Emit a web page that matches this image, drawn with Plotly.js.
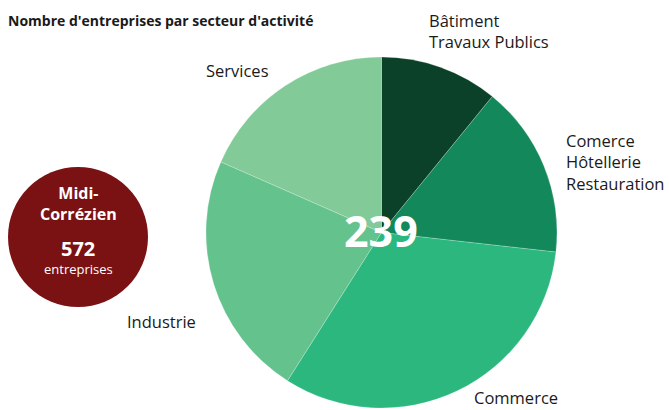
<!DOCTYPE html>
<html><head><meta charset="utf-8">
<script src="https://cdn.plot.ly/plotly-3.0.1.min.js"></script>
<style>html,body{margin:0;padding:0;background:#fff}</style>
</head><body><div id="chart" style="width:669px;height:410px"></div>
<script>
const sectors = ["Bâtiment Travaux Publics", "Comerce Hôtellerie Restauration", "Commerce", "Industrie", "Services"];
const counts = [26, 38, 77, 54, 44];
const colors = ["#0b4128", "#13885a", "#2cb77f", "#64c38d", "#82ca97"];
const totalLabel = "239";
const titleText = "Nombre d'entreprises par secteur d'activité";
const regionName = "Midi-<br>Corrézien";
const regionCount = "572";
const regionUnit = "entreprises";

const W = 669, H = 410;
const px = x => x / W, py = y => 1 - y / H;
const FONT = "Open Sans, Noto Sans, sans-serif";

const labelPos = [
  {text: "Bâtiment<br>Travaux Publics", x: 427, y: 31},
  {text: "Comerce<br>Hôtellerie<br>Restauration", x: 564, y: 162},
  {text: "Commerce", x: 472, y: 397},
  {text: "Industrie", x: 125, y: 321},
  {text: "Services", x: 204, y: 71}
];

const annotations = labelPos.map(l => ({
  text: l.text, x: px(l.x), y: py(l.y), xref: "paper", yref: "paper",
  xanchor: "left", yanchor: "middle", align: "left", showarrow: false,
  font: {family: FONT, size: 16.5, color: "#1a1a1a"}
}));
annotations.push({text: "<b>" + titleText + "</b>", x: px(6), y: py(20), xref: "paper", yref: "paper",
  xanchor: "left", yanchor: "middle", showarrow: false, font: {family: FONT, size: 14, color: "#1a1a1a"}});
annotations.push({text: "<b>" + totalLabel + "</b>", x: px(381), y: py(231), xref: "paper", yref: "paper",
  xanchor: "center", yanchor: "middle", showarrow: false, font: {family: FONT, size: 43, color: "#ffffff"}});
annotations.push({text: "<b>" + regionName + "</b>", x: px(78), y: py(203), xref: "paper", yref: "paper",
  xanchor: "center", yanchor: "middle", showarrow: false, font: {family: FONT, size: 16, color: "#ffffff"}});
annotations.push({text: "<b>" + regionCount + "</b>", x: px(78), y: py(248), xref: "paper", yref: "paper",
  xanchor: "center", yanchor: "middle", showarrow: false, font: {family: FONT, size: 20, color: "#ffffff"}});
annotations.push({text: regionUnit, x: px(78), y: py(269), xref: "paper", yref: "paper",
  xanchor: "center", yanchor: "middle", showarrow: false, font: {family: FONT, size: 13, color: "#ffffff"}});

const data = [{
  type: "pie", labels: sectors, values: counts, sort: false, direction: "clockwise", rotation: 0,
  marker: {colors: colors, line: {color: "rgba(255,255,255,0.35)", width: 0.6}},
  textinfo: "none", hoverinfo: "label+value", showlegend: false,
  domain: {x: [px(206), px(557)], y: [py(408), py(57)]}
}];

const layout = {
  width: W, height: H, margin: {l: 0, r: 0, t: 0, b: 0},
  paper_bgcolor: "#ffffff", showlegend: false,
  annotations: annotations,
  shapes: [{type: "circle", xref: "paper", yref: "paper",
    x0: px(8), x1: px(148), y0: py(307), y1: py(167),
    fillcolor: "#7a1214", line: {width: 0}, layer: "below"}]
};
Plotly.newPlot("chart", data, layout, {displayModeBar: false, staticPlot: true});
</script></body></html>
